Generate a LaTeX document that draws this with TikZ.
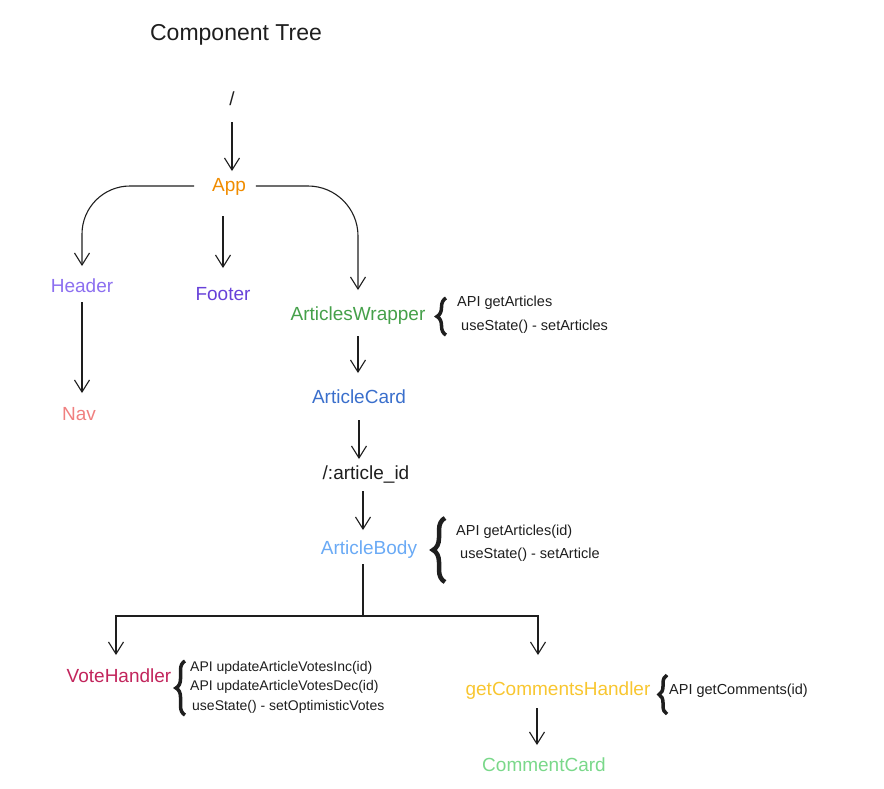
\documentclass[tikz,border=0pt]{standalone}
\usepackage{fontspec}
\setmainfont{Liberation Sans}
\usetikzlibrary{
  arrows.meta,
  positioning,
  decorations.pathreplacing,
}
\definecolor{inkcol}{HTML}{1E1E1E}
\definecolor{appcol}{HTML}{F08C00}
\definecolor{headercol}{HTML}{8C6FF0}
\definecolor{footercol}{HTML}{6741D9}
\definecolor{navcol}{HTML}{F08080}
\definecolor{wrappercol}{HTML}{45A04A}
\definecolor{cardcol}{HTML}{3A6FCC}
\definecolor{bodycol}{HTML}{6AAAF5}
\definecolor{votecol}{HTML}{C2255C}
\definecolor{commentscol}{HTML}{F8C630}
\definecolor{ccardcol}{HTML}{7AD88A}
\tikzstyle{comp} = [
inner sep=2pt,
outer sep=4pt,
text height=14pt,
text depth=4pt,
font=\fontsize{19}{22}\selectfont
]
\tikzstyle{note} = [
anchor=west,
inner sep=0pt,
text=inkcol,
text height=10pt,
text depth=3pt,
font=\fontsize{14.5}{16}\selectfont
]
\tikzstyle{arrow} = [draw, inkcol, line width=1.1pt, -{Straight Barb[length=12pt,width=15pt]}]
\tikzstyle{link} = [draw, inkcol, line width=1.1pt]
\tikzstyle{bracket} = [draw, inkcol, line width=3.5pt, decorate, decoration={brace, amplitude=#1}]

\begin{document}
\begin{tikzpicture}[x=1pt, y=-1pt]
  \useasboundingbox (0,0) rectangle (884,788);
  % Place nodes
  \node [comp, font=\fontsize{23}{26}\selectfont, text=inkcol] (title) at (236,35) {Component Tree};
  \node [comp, text=inkcol] (root) at (232,100) {/};
  \node [comp, text=appcol] (app) at (229,186) {App};
  \node [comp, text=headercol] (header) at (82,287) {Header};
  \node [comp, text=footercol] (footer) at (223,295) {Footer};
  \node [comp, text=navcol] (nav) at (79,415) {Nav};
  \node [comp, text=wrappercol] (wrapper) at (358,315) {ArticlesWrapper};
  \node [comp, text=cardcol] (card) at (359,398) {ArticleCard};
  \node [comp, text=inkcol] (articleid) at (366,474) {/:article\_id};
  \node [comp, text=bodycol] (body) at (369,549) {ArticleBody};
  \node [comp, text=votecol] (vote) at (119,677) {VoteHandler};
  \node [comp, text=commentscol] (comments) at (558,690) {getCommentsHandler};
  \node [comp, text=ccardcol] (commentcard) at (544,766) {CommentCard};
  \coordinate (split) at (363,616);

  % Notes
  \node [note] (wrapnoteA) at (457,303) {API getArticles};
  \node [note] (wrapnoteB) at (461,327) {useState() - setArticles};
  \node [note] (bodynoteA) at (456,532) {API getArticles(id)};
  \node [note] (bodynoteB) at (460,555) {useState() - setArticle};
  \node [note, font=\fontsize{14}{16}\selectfont] (votenoteA) at (190,668) {API updateArticleVotesInc(id)};
  \node [note, font=\fontsize{14}{16}\selectfont] (votenoteB) at (190,687) {API updateArticleVotesDec(id)};
  \node [note, font=\fontsize{14}{16}\selectfont] (votenoteC) at (192,707) {useState() - setOptimisticVotes};
  \node [note] (commentsnote) at (669,691) {API getComments(id)};

  % Draw braces
  \path [bracket=9pt] (446,335) -- (446,298);
  \path [bracket=12pt, line width=4.5pt] (445,582) -- (445,518);
  \path [bracket=9pt] (185,715) -- (185,661);
  \path [bracket=8pt] (667,714) -- (667,675);

  % Draw edges
  \path [arrow, shorten <=7pt] (root) -- (root |- app.north);
  \path [arrow, rounded corners=48pt, shorten <=12pt, shorten >=6pt] (app.west) -| (header.north);
  \path [arrow, shorten <=15pt, shorten >=12pt] (app.south -| footer.north) -- (footer.north);
  \path [arrow, rounded corners=50pt, shorten <=4pt, shorten >=10pt] (app.east) -| (wrapper.north);
  \path [arrow, shorten >=7pt] (header) -- (header.south |- nav.north);
  \path [arrow, shorten <=6pt, shorten >=10pt] (wrapper) -- (wrapper.south |- card.north);
  \path [arrow, shorten <=7pt] (card) -- (card.south |- articleid.north);
  \path [arrow, shorten <=2pt, shorten >=4pt] (articleid.south -| split) -- (split |- body.north);
  \path [link] (body.south -| split) -- (split);
  \path [arrow, shorten >=7pt] (split) -| ([xshift=-3pt]vote.north);
  \path [arrow, shorten >=20pt] (split) -| ([xshift=-20pt]comments.north);
  \path [arrow, shorten <=3pt, shorten >=6pt] ([xshift=-21pt]comments.south) -- ([xshift=-21pt]comments.south |- commentcard.north);
\end{tikzpicture}
\end{document}
